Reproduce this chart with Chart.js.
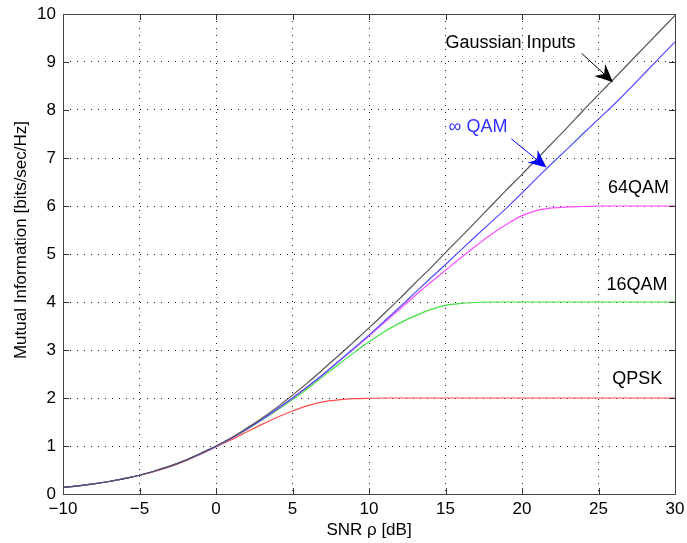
<!DOCTYPE html>
<html>
<head>
<meta charset="utf-8">
<script src="https://cdn.jsdelivr.net/npm/chart.js@4.4.1/dist/chart.umd.min.js"></script>
<style>
  html, body { margin: 0; padding: 0; background: #fff; }
  #wrap { width: 687px; height: 543px; }
</style>
</head>
<body>
<div id="wrap"><canvas id="myChart" width="687" height="543"></canvas></div>
<script>
// abscisses : SNR en dB
const snr = [-10, -9, -8, -7, -6, -5, -4, -3, -2, -1, 0, 1, 2, 3, 4, 5, 6, 7, 8, 9, 10,
  11, 12, 13, 14, 15, 16, 17, 18, 19, 20, 21, 22, 23, 24, 25, 26, 27, 28, 29, 30];

// valeurs (bits/sec/Hz)
const gaussian = [0.14, 0.17, 0.21, 0.26, 0.32, 0.39, 0.48, 0.58, 0.70, 0.85, 1.00,
  1.17, 1.37, 1.58, 1.81, 2.06, 2.32, 2.60, 2.88, 3.17, 3.46,
  3.76, 4.07, 4.39, 4.70, 5.03, 5.35, 5.68, 6.01, 6.34, 6.66,
  6.99, 7.32, 7.65, 7.99, 8.32, 8.65, 8.98, 9.31, 9.64, 9.97];
const infQam = [0.14, 0.17, 0.21, 0.26, 0.32, 0.39, 0.48, 0.58, 0.70, 0.84, 0.99,
  1.16, 1.35, 1.55, 1.77, 2.00, 2.24, 2.49, 2.76, 3.03, 3.31,
  3.60, 3.89, 4.19, 4.49, 4.78, 5.08, 5.38, 5.67, 5.96, 6.27,
  6.59, 6.90, 7.20, 7.51, 7.81, 8.11, 8.43, 8.76, 9.09, 9.42];
const qam64 = [0.14, 0.17, 0.21, 0.26, 0.32, 0.39, 0.48, 0.58, 0.70, 0.84, 0.99,
  1.16, 1.35, 1.55, 1.77, 2.00, 2.24, 2.49, 2.76, 3.02, 3.29,
  3.57, 3.85, 4.13, 4.40, 4.66, 4.92, 5.17, 5.41, 5.62, 5.80,
  5.91, 5.96, 5.98, 5.99, 6.00, 6.00, 6.00, 6.00, 6.00, 6.00];
const qam16 = [0.14, 0.17, 0.21, 0.26, 0.32, 0.39, 0.48, 0.58, 0.70, 0.84, 0.99,
  1.16, 1.34, 1.54, 1.75, 1.97, 2.20, 2.45, 2.70, 2.94, 3.17,
  3.38, 3.56, 3.71, 3.84, 3.93, 3.97, 3.99, 4.00, 4.00, 4.00,
  4.00, 4.00, 4.00, 4.00, 4.00, 4.00, 4.00, 4.00, 4.00, 4.00];
const qpsk = [0.14, 0.17, 0.21, 0.26, 0.32, 0.39, 0.47, 0.57, 0.69, 0.83, 0.98,
  1.13, 1.29, 1.45, 1.60, 1.73, 1.84, 1.92, 1.96, 1.985, 1.995,
  2.00, 2.00, 2.00, 2.00, 2.00, 2.00, 2.00, 2.00, 2.00, 2.00,
  2.00, 2.00, 2.00, 2.00, 2.00, 2.00, 2.00, 2.00, 2.00, 2.00];

// graduations
const xTicks = [-10, -5, 0, 5, 10, 15, 20, 25, 30];
const yTicks = [0, 1, 2, 3, 4, 5, 6, 7, 8, 9, 10];

// textes et flèches (coordonnées en unités du graphique)
const labels = [
  { text: 'Gaussian Inputs', x: 15.0, y: 9.40, color: '#000' },
  { text: '\u221E QAM', x: 15.2, y: 7.64, color: '#3333ff' },
  { text: '64QAM', x: 25.62, y: 6.37, color: '#000' },
  { text: '16QAM', x: 25.52, y: 4.35, color: '#000' },
  { text: 'QPSK', x: 25.9, y: 2.39, color: '#000' },
];
const arrows = [
  { x1: 23.9, y1: 9.18, x2: 25.95, y2: 8.58, color: '#000' },
  { x1: 19.3, y1: 7.40, x2: 21.6, y2: 6.80, color: '#0000ff' },
];

const FONT = '"Liberation Sans", Arial, sans-serif';

const toPoints = (vals) => vals.map((v, i) => ({ x: snr[i], y: v }));

function serie(vals, color, smooth) {
  return {
    data: toPoints(vals),
    borderColor: color,
    borderWidth: 1.2,
    pointRadius: 0,
    cubicInterpolationMode: smooth ? 'monotone' : 'default',
    tension: 0,
    fill: false,
  };
}

const deco = {
  id: 'deco',
  afterDatasetsDraw(chart) {
    const { ctx, scales: { x, y } } = chart;
    ctx.save();
    ctx.font = '18px ' + FONT;
    ctx.textBaseline = 'middle';
    ctx.textAlign = 'left';
    labels.forEach((l) => {
      ctx.fillStyle = l.color;
      ctx.fillText(l.text, x.getPixelForValue(l.x), y.getPixelForValue(l.y));
    });
    arrows.forEach((a) => {
      const px1 = x.getPixelForValue(a.x1), py1 = y.getPixelForValue(a.y1);
      const px2 = x.getPixelForValue(a.x2), py2 = y.getPixelForValue(a.y2);
      const ang = Math.atan2(py2 - py1, px2 - px1);
      const len = 18, half = 8, back = 12;
      ctx.strokeStyle = a.color;
      ctx.fillStyle = a.color;
      ctx.lineWidth = 1;
      ctx.beginPath();
      ctx.moveTo(px1, py1);
      ctx.lineTo(px2 - Math.cos(ang) * back, py2 - Math.sin(ang) * back);
      ctx.stroke();
      // pointe avec encoche
      const bx = px2 - Math.cos(ang) * len, by = py2 - Math.sin(ang) * len;
      const nx = -Math.sin(ang), ny = Math.cos(ang);
      ctx.beginPath();
      ctx.moveTo(px2, py2);
      ctx.lineTo(bx + nx * half, by + ny * half);
      ctx.lineTo(px2 - Math.cos(ang) * back, py2 - Math.sin(ang) * back);
      ctx.lineTo(bx - nx * half, by - ny * half);
      ctx.closePath();
      ctx.fill();
    });
    ctx.restore();
  },
  afterDraw(chart) {
    const { ctx, chartArea: a, scales: { x, y } } = chart;
    ctx.save();
    ctx.strokeStyle = '#333';
    ctx.lineWidth = 1;
    ctx.beginPath();
    x.ticks.forEach((t) => {
      const p = Math.round(x.getPixelForValue(t.value)) + 0.5;
      ctx.moveTo(p, a.bottom); ctx.lineTo(p, a.bottom - 6);
      ctx.moveTo(p, a.top); ctx.lineTo(p, a.top + 6);
    });
    y.ticks.forEach((t) => {
      const p = Math.round(y.getPixelForValue(t.value)) + 0.5;
      ctx.moveTo(a.left, p); ctx.lineTo(a.left + 6, p);
      ctx.moveTo(a.right, p); ctx.lineTo(a.right - 6, p);
    });
    ctx.stroke();
    ctx.strokeStyle = '#444';
    ctx.strokeRect(Math.round(a.left) + 0.5, Math.round(a.top) + 0.5,
      Math.round(a.right - a.left), Math.round(a.bottom - a.top));
    // titre de l'axe Y
    ctx.translate(21, 240);
    ctx.rotate(-Math.PI / 2);
    ctx.font = '17px ' + FONT;
    ctx.fillStyle = '#000';
    ctx.textAlign = 'center';
    ctx.textBaseline = 'middle';
    ctx.fillText('Mutual Information [bits/sec/Hz]', 0, 0);
    ctx.restore();
  },
};

const minus = (v) => (v < 0 ? '\u2212' + Math.abs(v) : String(v));

const ctx = document.getElementById('myChart').getContext('2d');
const myChart = new Chart(ctx, {
  type: 'line',
  data: {
    datasets: [
      serie(gaussian, '#555555', true),
      serie(infQam, '#4d4dff', false),
      serie(qam64, '#ff4dff', true),
      serie(qam16, '#40e040', true),
      serie(qpsk, '#ff4d4d', true),
    ],
  },
  options: {
    responsive: false,
    animation: false,
    layout: { padding: { left: 0, right: 12, top: 14, bottom: 0 } },
    plugins: { legend: { display: false }, tooltip: { enabled: false } },
    scales: {
      x: {
        type: 'linear',
        min: -10,
        max: 30,
        afterBuildTicks: (s) => { s.ticks = xTicks.map((v) => ({ value: v })); },
        afterFit: (s) => { s.height = 49; s.paddingLeft = 0; s.paddingRight = 0; },
        ticks: { callback: minus, color: '#000', padding: 5, maxRotation: 0,
          font: { family: FONT, size: 17 } },
        grid: { color: '#222', lineWidth: 1, drawTicks: false },
        border: { display: false, dash: [1, 6] },
        title: { display: true, text: 'SNR \u03C1 [dB]', color: '#000',
          font: { family: FONT, size: 17 }, padding: { top: 0, bottom: 2 } },
      },
      y: {
        type: 'linear',
        min: 0,
        max: 10,
        afterBuildTicks: (s) => { s.ticks = yTicks.map((v) => ({ value: v })); },
        afterFit: (s) => { s.width = 63; s.paddingTop = 0; s.paddingBottom = 0; },
        ticks: { callback: minus, color: '#000', padding: 7,
          font: { family: FONT, size: 17 } },
        grid: { color: '#222', lineWidth: 1, drawTicks: false },
        border: { display: false, dash: [1, 6] },
      },
    },
  },
  plugins: [deco],
});
</script>
</body>
</html>
